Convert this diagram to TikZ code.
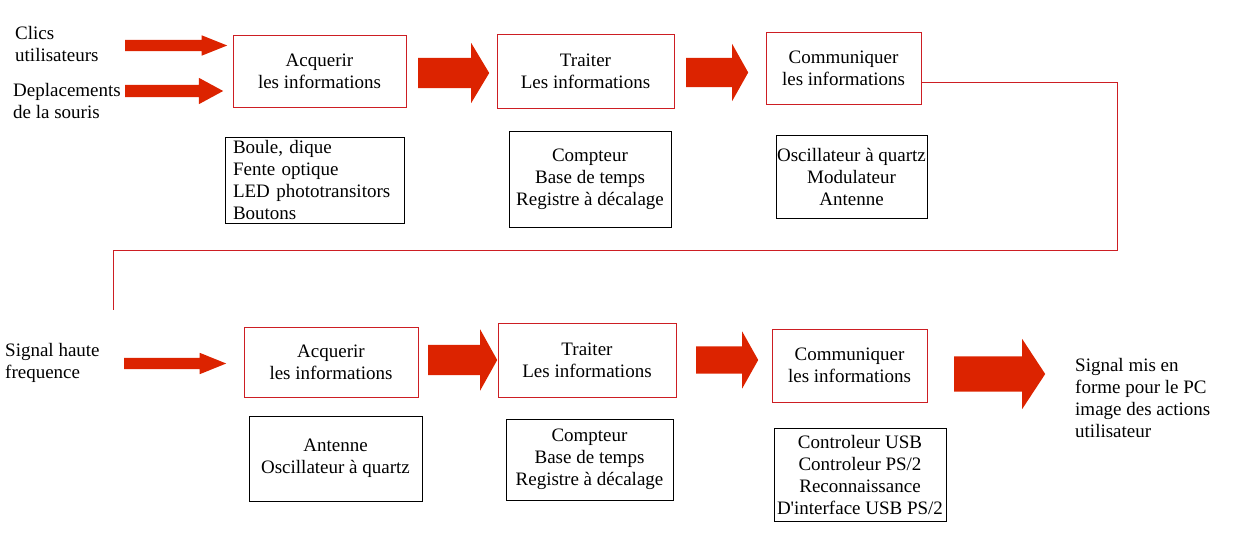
\documentclass[tikz,border=0pt]{standalone}
\usepackage{fontspec}
\setmainfont{Liberation Serif}
\usetikzlibrary{positioning,calc,shapes.arrows}
\definecolor{arrowred}{RGB}{220,35,0}
\definecolor{boxred}{RGB}{205,30,35}
\tikzset{stage/.style n args={2}{draw=boxred, line width=1pt, align=center, inner sep=0pt,
    minimum width=#1, minimum height=#2},
  part/.style n args={2}{draw=black, line width=1pt, align=center, inner sep=0pt,
    minimum width=#1, minimum height=#2},
  flow/.style n args={4}{single arrow, fill=arrowred, inner sep=0pt, text height=#1, text depth=0pt,
    single arrow head extend=#2, minimum height=#3, single arrow tip angle=#4, anchor=tail},
  lbl/.style={align=left, anchor=west, inner sep=0pt}
}

\begin{document}
\begin{tikzpicture}[x=1pt,y=-1pt,font=\fontsize{19}{22}\selectfont]
	\useasboundingbox (0,0) rectangle (1237,541);
	% first chain
	\node[lbl] (clics) at (15,44) {Clics\\utilisateurs};
	\node[lbl] (depl) at (13,101) {Deplacements\\de la souris};
	\node[stage={173pt}{72pt}] (acq1) at (319.5,71) {Acquerir\\les informations};
	\node[stage={177pt}{74pt}] (trt1) at (585.5,71) {Traiter\\Les informations};
	\node[stage={155pt}{72pt}] (com1) at (843.5,68) {Communiquer\\les informations};
	\node[part={179pt}{86pt},align=left,text width=163pt,inner xsep=8pt] (mec1) at (314.5,180) {Boule, dique\\Fente optique\\LED phototransitors\\Boutons};
	\node[part={162pt}{96pt}] (cpt1) at (590,179) {Compteur\\Base de temps\\Registre à décalage};
	\node[part={151pt}{83pt}] (osc1) at (851.5,176.5) {Oscillateur à quartz\\Modulateur\\Antenne};
	\node[flow={11pt}{4.5pt}{102pt}{43.6}] (f1) at (125,45.5) {};
	\node[flow={12pt}{7pt}{98pt}{56.9}] (f2) at (125,91) {};
	\node[flow={30pt}{15pt}{71pt}{118.1}] (f3) at (418,73) {};
	\node[flow={29pt}{14pt}{62pt}{121.4}] (f4) at (686,72.5) {};
	% return line
	\coordinate (turn) at (1117,250);
	\coordinate (back) at (113,310);
	\draw[boxred,line width=1pt] ($(com1.east)+(0,14)$) -| (turn) -| (back);
	% second chain
	\node[lbl] (sig) at (5,363) {Signal haute\\frequence};
	\node[stage={174pt}{70pt}] (acq2) at (331,362) {Acquerir\\les informations};
	\node[stage={178pt}{74pt}] (trt2) at (587,360) {Traiter\\Les informations};
	\node[stage={155pt}{73pt}] (com2) at (849.5,365.5) {Communiquer\\les informations};
	\node[part={173pt}{85pt}] (ant2) at (335.5,458.5) {Antenne\\Oscillateur à quartz};
	\node[part={167pt}{81pt}] (cpt2) at (589.5,459.5) {Compteur\\Base de temps\\Registre à décalage};
	\node[part={172pt}{93pt}] (ctl2) at (860,474.5) {Controleur USB\\Controleur PS/2\\Reconnaissance\\D\textquotesingle interface USB PS/2};
	\node[lbl] (pc) at (1075,398) {Signal mis en\\forme pour le PC\\image des actions\\utilisateur};
	\node[flow={11pt}{5pt}{102pt}{44}] (f5) at (124,363.5) {};
	\node[flow={30pt}{15.5pt}{69pt}{121.8}] (f6) at (428,360) {};
	\node[flow={27pt}{15pt}{62pt}{121.4}] (f7) at (696,360) {};
	\node[flow={35pt}{17.5pt}{91pt}{113.4}] (f8) at (954,374) {};
\end{tikzpicture}
\end{document}
